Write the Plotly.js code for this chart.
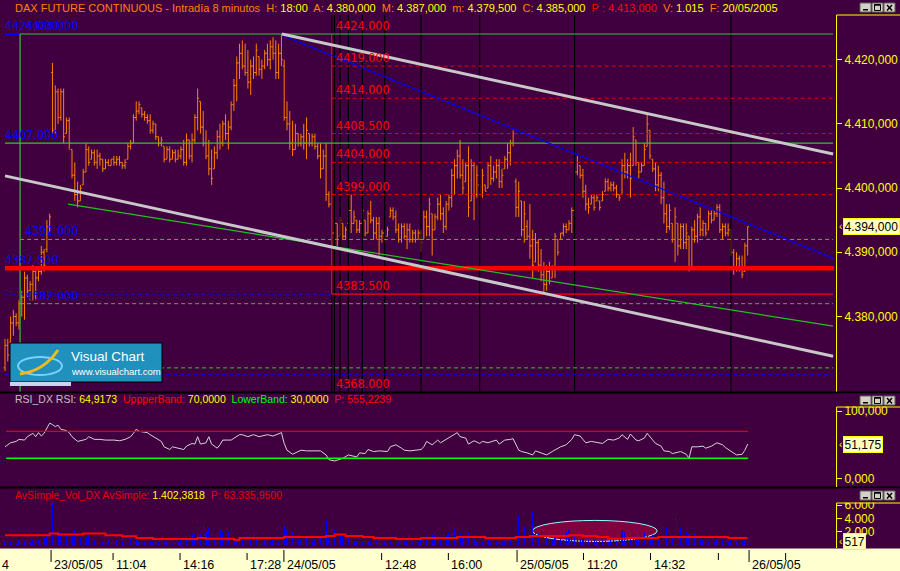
<!DOCTYPE html>
<html><head><meta charset="utf-8">
<script src="https://cdn.plot.ly/plotly-3.0.1.min.js"></script>
<style>html,body{margin:0;padding:0;background:#400040;}#chart{width:900px;height:571px;}</style>
</head><body><div id="chart"></div>
<script>
// ---------------- DATA ----------------
const barHigh = [4376.5,4376.5,4380,4381,4380.5,4382.5,4384,4387,4386.5,4385.5,4388,4387.5,4387.5,4391,4390.5,4395,4396,4419.5,4416,4415.5,
4415.5,4415.5,4411,4411,4406,4404,4401,4400.5,4403,4407,4406.5,4406,4406,4406,4405.5,4404.5,4404.5,4404.5,4404.5,4405,
4405,4405,4404,4404.5,4407,4407.5,4411.5,4413.5,4413.5,4412.5,4412,4411.5,4411.5,4410.5,4410,4408,4408,4406.5,4406.5,4406.5,
4406,4406,4406,4406.5,4407.5,4408.5,4407.5,4408.5,4411.5,4415.5,4413.5,4412,4409,4407.5,4406,4406.5,4409,4410,4410.5,4411.5,
4410.5,4413.5,4417,4420.5,4422.5,4423,4422.5,4421.5,4420,4420.5,4422.5,4420.5,4420,4421.5,4422.5,4423,4423.5,4423,4422.5,4424,
4420,4413.5,4412,4410.5,4410,4408.5,4408.5,4410,4411,4408.5,4408.5,4408.5,4407,4407,4406,4407,4399.5,4399.5,4395,4394.5,
4395.5,4394.5,4394,4397,4399,4396.5,4395,4395,4397,4395,4396.5,4398,4395.5,4395.5,4395.5,4393.5,4393.5,4394,4397,4397,
4396.5,4394.5,4394.5,4394.5,4394.5,4394.5,4393.5,4393.5,4393.5,4393.5,4396.5,4396.5,4398.5,4396,4396,4398.5,4399,4397,4398,4399,
4403,4404.5,4406,4407.5,4404.5,4404,4406.5,4404.5,4404,4403.5,4400.5,4403,4400.5,4404,4405,4403.5,4404.5,4404.5,4403,4405,
4407,4407.5,4409,4401.5,4401,4398,4398,4395,4397.5,4393.5,4393,4392,4390.5,4388.5,4388,4388.5,4388,4393,4392,4393,
4394.5,4394.5,4395,4397,4403.5,4405,4403.5,4403,4400.5,4398.5,4399,4399,4399,4398,4399.5,4401.5,4401.5,4401,4401,4400.5,
4399,4404.5,4405.5,4404.5,4405.5,4409.5,4407.5,4404,4404,4407,4411.5,4409,4404.5,4404,4403.5,4402.5,4401,4397.5,4397.5,4394.5,
4397,4394.5,4394.5,4394.5,4394.5,4392.5,4394,4395,4396,4397,4395,4394.5,4396.5,4396.5,4396.5,4397.5,4397.5,4394.5,4394.5,4394.5,
4393.5,4390.5,4390,4389.5,4389.5,4391.5,4394];
const barLow = [4371.5,4373,4375.5,4377,4378.5,4378,4380,4379.5,4383,4382.5,4382.5,4382.5,4385.5,4386.5,4387,4390,4393,4408.5,4408.5,4410,
4410.5,4407,4408.5,4406,4401.5,4398,4397,4398,4400.5,4402.5,4403.5,4404.5,4403.5,4403,4403.5,4402.5,4403,4403.5,4403.5,4403.5,
4403.5,4403.5,4403,4403,4404.5,4406,4407,4410.5,4411.5,4411,4410.5,4410,4408.5,4408.5,4407.5,4406.5,4406.5,4404,4404.5,4404,
4404.5,4404,4404.5,4404.5,4403.5,4403.5,4404.5,4404,4407,4409,4408.5,4406.5,4404.5,4402,4400.5,4403,4404.5,4406,4406.5,4407.5,
4406,4409,4412,4413.5,4417,4418.5,4417.5,4415.5,4414.5,4417,4417.5,4417.5,4417,4418.5,4419,4418.5,4420,4417,4417,4419,
4410.5,4409,4406,4405,4406,4406.5,4406.5,4406,4404.5,4406.5,4406.5,4406,4404.5,4401.5,4403,4398,4397,4391,4392,4391,
4392.5,4392,4392,4394.5,4393,4394.5,4393,4393,4394.5,4392.5,4393,4394.5,4392,4392,4389.5,4391.5,4391.5,4392.5,4395.5,4395,
4393,4391.5,4391.5,4392,4390.5,4391.5,4391.5,4391.5,4392,4390,4392,4392.5,4392.5,4389.5,4393.5,4395,4395,4393,4393.5,4396.5,
4397,4399,4401.5,4401.5,4399,4401,4395.5,4398,4395,4398.5,4398.5,4398.5,4399.5,4400,4400.5,4401,4401.5,4400,4400,4403,
4403,4403.5,4406.5,4395.5,4395.5,4392.5,4391.5,4392,4389,4386,4388.5,4387,4385.5,4383.5,4384,4385,4386,4386,4389.5,4392,
4392.5,4393,4393.5,4393,4396.5,4402,4401.5,4398.5,4396.5,4396,4397.5,4396.5,4398,4396.5,4398,4399.5,4399.5,4399.5,4399.5,4398.5,
4398,4399,4401.5,4401.5,4398.5,4403.5,4403.5,4401.5,4402.5,4403.5,4406.5,4404.5,4402.5,4399.5,4399.5,4397.5,4394.5,4393,4393.5,4391.5,
4388.5,4389.5,4390.5,4390.5,4390.5,4387,4387.5,4391.5,4391.5,4392.5,4392.5,4392.5,4393.5,4394.5,4395,4395.5,4393,4392,4392.5,4392.5,
4389.5,4386.5,4387,4387,4386,4387,4389.5];
const barOpen = [4372,4375.5,4376,4379,4380,4379,4382,4383,4386,4384,4385,4387,4386,4387,4390,4390.5,4394,4418,4409,4415,
4411,4415,4408.5,4410.5,4406,4402,4399,4398,4400.5,4402.5,4406,4404.5,4405.5,4404,4405,4404.5,4403,4404,4403.5,4404.5,
4404,4404.5,4404,4403.5,4404.5,4406.5,4407,4411,4412,4412.5,4411.5,4411,4410.5,4409,4410,4408,4407,4406.5,4404.5,4406,
4404.5,4405.5,4404.5,4405,4406,4404,4407.5,4405,4407.5,4411,4413.5,4409.5,4407,4405,4403,4403,4405.5,4408,4407,4410,
4408.5,4409.5,4413,4416,4419.5,4421,4419,4418,4416.5,4419,4418,4420.5,4418.5,4419,4421,4420,4422,4421,4418,4421,
4419,4411,4410,4407,4406,4408.5,4407,4408,4407,4408.5,4407,4408,4406.5,4405,4403,4405,4399,4397.5,4393,4394.5,
4392.5,4394.5,4392.5,4394.5,4396.5,4394.5,4395,4393.5,4394.5,4395,4393,4396,4395,4393,4394.5,4392.5,4393,4392.5,4395.5,4396.5,
4395.5,4393.5,4392,4394,4392.5,4393.5,4392,4393,4392,4393,4392,4395.5,4394,4396,4393.5,4395.5,4397.5,4396,4394,4397.5,
4398.5,4402,4403.5,4405,4402,4401,4403.5,4398,4403.5,4399,4400.5,4399,4400.5,4400,4403.5,4401.5,4402.5,4403.5,4401,4403,
4404.5,4405.5,4407,4401,4397,4398,4393.5,4394,4392.5,4391,4388.5,4391.5,4388,4386.5,4385,4387,4386,4387.5,4392,4392,
4393,4394,4393.5,4394.5,4396.5,4402.5,4403.5,4402,4399.5,4397.5,4397.5,4398.5,4398,4398,4398,4399.5,4401,4400,4400.5,4400,
4399,4399,4403.5,4402.5,4403.5,4403.5,4407.5,4404,4402.5,4403.5,4406.5,4409,4404.5,4403,4400.5,4402,4398.5,4396,4394,4394.5,
4392,4394.5,4391,4394,4391.5,4392.5,4387.5,4393.5,4392.5,4395.5,4393.5,4394.5,4393.5,4396,4395,4396,4397,4393.5,4394,4393,
4393.5,4390,4387.5,4389,4387.5,4387,4391];
const barClose = [4375.5,4374,4379,4380,4379,4382,4383,4386,4384,4385,4387,4386,4387,4390,4388,4394,4395.5,4409,4415,4411,
4415,4408,4410.5,4407,4402,4399,4398,4400,4402.5,4406,4404,4405.5,4404,4405,4404.5,4403,4404,4403.5,4404.5,4404,
4404.5,4404,4403.5,4404,4406.5,4407,4411,4412,4413,4411.5,4411,4410.5,4409,4410,4408,4407,4407.5,4404.5,4406,4404.5,
4405.5,4404.5,4405,4406,4404,4407.5,4405,4407.5,4411,4414,4409.5,4407,4405,4403,4401.5,4405.5,4408,4407,4410,4408.5,
4409.5,4413,4416,4419.5,4421,4419,4418,4416.5,4419,4418,4421.5,4418.5,4419,4421,4420,4422,4421,4418,4421,4420,
4411,4410,4407,4406,4408.5,4407,4408,4407,4409,4407,4408,4406.5,4405,4403,4405,4399,4397.5,4393,4394.5,4392,
4395,4392.5,4393.5,4396.5,4394.5,4395.5,4393.5,4394.5,4396.5,4393,4396,4395,4393,4394.5,4392.5,4393,4392,4393.5,4396.5,4395.5,
4393.5,4392,4394,4392.5,4393.5,4392,4393,4392,4393,4391.5,4395.5,4394,4397.5,4393.5,4395.5,4397.5,4396,4394,4397.5,4398.5,
4402,4403.5,4405,4402,4400,4403.5,4397,4403.5,4399,4402,4399,4402,4399.5,4403.5,4401.5,4402.5,4403.5,4401,4402,4404.5,
4405.5,4407,4408.5,4397,4399.5,4393.5,4396,4392.5,4391,4388,4391.5,4388,4386.5,4385,4387,4385.5,4387.5,4392.5,4390,4393,
4394,4393.5,4394.5,4396.5,4402.5,4404,4402,4399.5,4397.5,4397,4398.5,4397,4398.5,4397,4399,4401,4400,4400.5,4400,4399,
4398.5,4403.5,4402.5,4403.5,4401.5,4408,4404,4402.5,4403.5,4406,4410,4405,4403,4400.5,4402,4398.5,4396,4394,4396.5,4392,
4395.5,4391,4394,4391.5,4393,4387.5,4393.5,4392.5,4395.5,4393.5,4394.5,4393,4396,4395,4396,4397,4393.5,4394,4393,4393.5,
4390,4387.5,4389,4387.5,4386.5,4391,4394];
const volume = [520,700,450,610,380,820,560,640,900,480,720,530,980,660,1100,1350,1450,6240,3730,2000,
1950,1700,1550,1230,1250,2250,2200,1250,1300,1200,1480,600,750,480,700,520,640,800,450,550,
720,380,600,690,520,880,1100,950,620,700,480,560,650,420,760,520,600,700,450,580,
400,680,520,740,900,1100,1500,1700,1600,3500,1650,2900,2000,2600,2100,1200,2400,2250,1900,2300,
2100,1800,900,1000,800,1100,900,700,750,1980,900,700,600,750,650,700,800,600,700,1000,
2800,2200,2000,1900,1000,800,900,700,1100,750,650,900,800,1200,1000,3600,1500,2500,2400,1500,
1300,1250,1450,1200,1350,700,600,800,550,700,650,500,700,600,850,500,450,600,700,550,
500,650,450,600,520,700,480,600,550,800,1200,1400,1100,1700,1300,1500,1200,1600,1400,2000,
3000,2400,2600,1800,1500,1700,2000,1400,900,700,800,650,600,750,550,700,500,650,600,700,
550,800,900,600,4500,1500,2700,1400,1300,5000,1800,1600,2100,1500,1200,900,1000,1100,800,900,
750,2000,2200,1500,1300,1100,1000,900,700,800,650,750,600,700,800,650,550,900,750,600,
1100,2100,2000,1200,1000,1600,1100,900,1400,2000,1300,1200,1500,1100,1300,2700,2900,2600,1800,1500,
4000,2600,2500,1900,2000,1700,1800,1600,1100,900,800,1000,700,850,600,750,650,800,550,700,
900,750,600,800,650,750,517];
const maBars   = [0,16,19,28,36,42,47,53,69,72,82,84,100,115,118,122,128,132,140,149,162,172,183,188,202,207,212,216,223,234,259,266];
const maValues = [1480,1730,1580,1730,1480,1330,1080,930,1080,980,830,1080,1230,1380,1580,1380,1230,1080,930,1080,1230,1080,1230,1380,1480,1380,1230,980,1080,1230,1080,1080];
const rsiBars = [0,2,4,5,7,8,10,11,12,13,14,15,16,17,18,19,20,22,23,24,26,28,29,30,32,34,36,39,41,43,
45,46,47,48,51,52,54,56,57,59,60,62,64,65,67,68,69,70,72,73,74,76,77,78,81,84,85,87,89,91,
94,96,97,99,100,101,103,105,106,108,110,112,113,115,116,118,119,121,123,125,126,127,129,130,132,134,137,138,140,142,
143,145,147,149,150,151,153,155,156,158,159,161,162,163,165,166,168,170,171,173,175,176,177,179,181,182,184,185,187,189,
190,192,194,196,198,199,201,203,204,206,207,208,210,212,214,216,218,220,221,223,224,226,227,229,230,232,233,235,236,238,
239,242,244,245,246,248,250,251,253,255,257,258,260,262,264,265,266];
const rsiValues = [47,53,55,58,57,62,67,62,68,63,67,74,82,80,77,79,73,71,68,62,55,57,58,62,58,58,57,57,56,58,
62,67,73,70,68,65,60,55,47,43,47,45,43,48,52,51,62,51,53,62,51,45,50,57,57,65,65,62,65,62,
65,63,65,68,52,42,36,40,42,41,41,41,41,35,28,26,27,30,35,33,32,38,37,43,40,41,40,47,50,45,
42,41,42,43,47,55,50,57,53,58,60,66,68,62,60,51,56,52,55,53,55,57,51,57,58,59,42,40,38,35,
41,38,35,40,45,47,50,58,65,63,58,53,55,53,52,58,57,60,65,58,66,57,56,60,67,57,52,48,41,40,
37,40,36,30,47,47,48,45,48,53,50,46,40,35,36,42,51.175];
const rsiUpperBand = 70, rsiLowerBand = 30;

// drawn studies (bar index / price)
const greenSolidLevels = [4424, 4407];
const greenDashLevels  = [4392, 4382, 4372];
const blueDashLevels   = [4383.5, 4371];
const redThickLevel    = 4387.5;
const fibLevels        = [4424, 4419, 4414, 4408.5, 4404, 4399, 4383.5, 4368];
const fibTimeBars      = [117, 118, 120, 123, 128, 136, 149, 170, 204, 260];
const upperChannelBars = [99.2, 296.6], upperChannelPrices = [4424, 4405.3];
const lowerChannelBars = [0, 296.6],    lowerChannelPrices = [4401.9, 4373.8];
const blueTrendBars    = [99.2, 296.6], blueTrendPrices    = [4423.8, 4389.1];
const greenTrendBars   = [22.6, 296.6], greenTrendPrices   = [4397.5, 4378.5];
const volEllipseBars   = [188.9, 233.6], volEllipseValues = [560, 3700];

const blueLabelLevels  = [4424, 4407, 4387.5];      // labels at the left edge
const blueLabelLevels2 = [4424, 4392, 4382];        // labels next to the green frame
const timeTickBars   = [38.7, 62.7, 86.7, 134.9, 158.8, 207.2, 231.2, 255.5, 279.6];
const timeTickLabels = ['11:04','14:16','17:28','12:48','16:00','11:20','14:32','',''];
const dateTickBars   = [16.5, 99.9, 183.4, 266.5];
const dateTickLabels = ['23/05/05','24/05/05','25/05/05','26/05/05'];
const priceTicks = [4380, 4390, 4400, 4410, 4420];
const rsiTicks = [0, 100];
const volTicks = [2000, 4000, 6000];

// ---------------- helpers ----------------
const W = 900, H = 571;
const px = x => x / W;
const py = y => 1 - y / H;
const BG = '#400040', ORANGE = '#ff8000', YELLOW = '#ffff00', RED = '#ff0000';
const FONT = 'Liberation Sans, Arial, sans-serif';
const NARROW = 'Liberation Sans Narrow, Arial Narrow, DejaVu Sans Condensed, sans-serif';
function euro(n, dec) {
  const s = n.toFixed(dec).split('.');
  const int = s[0].replace(/\B(?=(\d{3})+(?!\d))/g, '.');
  return dec > 0 ? int + ',' + s[1] : int;
}
const N = barClose.length;
const barIndex = Array.from({length: N}, (_, i) => i);

const PXPB = 2.792, X0PX = 5;           // pixel scale of the bar axis
const xr0 = -X0PX / PXPB, xr1 = xr0 + 836 / PXPB;
const PRICE_RANGE = [4368.24, 4426.96];
const xLeftA = 0, xLeftB = 5.4, xRight = 296.6, xRightThick = 296.9, fibStart = 117;

// ---------------- traces ----------------
const traces = [
  {type:'ohlc', x:barIndex, open:barOpen, high:barHigh, low:barLow, close:barClose,
   increasing:{line:{color:ORANGE, width:1}}, decreasing:{line:{color:ORANGE, width:1}},
   tickwidth:0.5, xaxis:'x', yaxis:'y', hoverinfo:'skip'},
  {type:'scatter', mode:'lines', x:rsiBars, y:rsiValues, line:{color:'#d4d4d4', width:1},
   xaxis:'x', yaxis:'y2', hoverinfo:'skip'},
  {type:'bar', x:barIndex, y:volume, width:0.4, marker:{color:'#0000ff', line:{width:0}},
   xaxis:'x', yaxis:'y3', hoverinfo:'skip'},
  {type:'scatter', mode:'lines', x:maBars, y:maValues, line:{color:RED, width:2, shape:'hv'},
   xaxis:'x', yaxis:'y3', hoverinfo:'skip'}
];

// ---------------- shapes ----------------
const shapes = [];
const hline = (y, x0, x1, color, width, dash, yref) => shapes.push({type:'line', xref:'x', yref:yref||'y',
  x0:x0, x1:x1, y0:y, y1:y, line:{color:color, width:width, dash:dash||'solid'}});
const pline = (x0,y0,x1,y1,color,width,dash) => shapes.push({type:'line', xref:'paper', yref:'paper',
  x0:px(x0), x1:px(x1), y0:py(y0), y1:py(y1), line:{color:color, width:width, dash:dash||'solid'}});
const prect = (x0,y0,x1,y1,fill,lc,lw) => shapes.push({type:'rect', xref:'paper', yref:'paper',
  x0:px(x0), x1:px(x1), y0:py(y0), y1:py(y1), fillcolor:fill, line:{color:lc||fill, width:lw===undefined?0:lw}});

// Fibonacci time zone verticals
fibTimeBars.forEach(b => shapes.push({type:'line', xref:'x', yref:'paper', x0:b, x1:b, y0:py(15), y1:py(392),
  line:{color:'#000000', width:1.2}}));
// blue dashed levels
blueDashLevels.forEach(l => hline(l, xLeftA, xRight, '#0000ff', 1, '4px,3px'));
// green dashed levels
greenDashLevels.forEach(l => hline(l, xLeftB, xRight, '#2ec82e', 1, '4px,3px'));
// fib retracement
for (let k = 1; k < fibLevels.length - 1; k++) {
  if (fibLevels[k] === 4383.5) hline(fibLevels[k], fibStart, xRight, '#ff0000', 1.2);
  else hline(fibLevels[k], fibStart, xRight, '#e00000', 1, '4px,3px');
}
shapes.push({type:'line', xref:'x', yref:'y', x0:fibStart, x1:fibStart, y0:fibLevels[0], y1:4383.5, line:{color:'#ff0000', width:1.2}});
// green solid levels & frame
hline(greenSolidLevels[0], xLeftB, xRight, '#2ec82e', 1.2);
hline(greenSolidLevels[1], xLeftA, xRight, '#2ec82e', 1.2);
hline(greenSolidLevels[0], xLeftA, xLeftB, '#0000ff', 2);
shapes.push({type:'line', xref:'x', yref:'paper', x0:xLeftB, x1:xLeftB, y0:py(392), y1:py(34), line:{color:'#2ec82e', width:1.2}});
// thick red level
hline(redThickLevel, xLeftA, xRightThick, '#ff0000', 4.5);
// trend lines
const seg = (bars, prices, color, width) => shapes.push({type:'line', xref:'x', yref:'y',
  x0:bars[0], x1:bars[1], y0:prices[0], y1:prices[1], line:{color:color, width:width}});
seg(greenTrendBars, greenTrendPrices, '#22c022', 1.2);
seg(blueTrendBars, blueTrendPrices, '#0000ff', 1.2);
seg(upperChannelBars, upperChannelPrices, '#c8c8c8', 3);
seg(lowerChannelBars, lowerChannelPrices, '#c8c8c8', 3);
// RSI bands
hline(rsiUpperBand, 0.4, 266.2, '#e00000', 1.3, 'solid', 'y2');
hline(rsiLowerBand, 0.4, 266.2, '#00ff00', 1.6, 'solid', 'y2');
// volume ellipse
shapes.push({type:'circle', xref:'x', yref:'y3', layer:'below', x0:volEllipseBars[0], x1:volEllipseBars[1],
  y0:volEllipseValues[0], y1:volEllipseValues[1], fillcolor:'#800040', line:{color:'#90ffff', width:1}});

// logo
prect(10, 343, 162, 382, '#2090bc', '#000000', 1);
prect(10, 382, 71, 386, '#c8d4ec');
shapes.push({type:'circle', xref:'paper', yref:'paper', x0:px(18), x1:px(62), y0:py(375), y1:py(357),
  line:{color:'#7cd0ff', width:2}});
shapes.push({type:'path', xref:'paper', yref:'paper',
  path:`M ${px(20)},${py(374)} Q ${px(44)},${py(371)} ${px(58)},${py(350)}`, line:{color:'#f5b820', width:3}});

// panel separators and yellow axis frames
pline(0, 392.5, 900, 392.5, '#000000', 2);
pline(0, 487.5, 900, 487.5, '#000000', 2);
prect(837, 393.5, 900, 406.6, BG);
prect(837, 488.5, 900, 502.6, BG);
pline(836.5, 15, 900, 15, YELLOW, 1);
pline(836.5, 407, 900, 407, YELLOW, 1);
pline(836.5, 407, 836.5, 487, YELLOW, 1);
pline(836.5, 503, 900, 503, YELLOW, 1);
pline(836.5, 503, 836.5, 548, YELLOW, 1);

// window buttons
[3, 396, 491].forEach(t => {
  [860, 872, 884].forEach((x, k) => {
    prect(x, t, x + 11, t + 9, '#d4d0c8', '#606060', 1);
    if (k === 0) prect(x + 3, t + 6, x + 8, t + 7.5, '#000000');
    if (k === 1) { shapes.push({type:'rect', xref:'paper', yref:'paper', x0:px(x+2.5), x1:px(x+8.5), y0:py(t+7.5), y1:py(t+1.5), line:{color:'#000', width:1}});
                   pline(x + 2.5, t + 2, x + 8.5, t + 2, '#000', 1.5); }
    if (k === 2) { pline(x + 3, t + 2, x + 8, t + 7.5, '#000', 1.5); pline(x + 8, t + 2, x + 3, t + 7.5, '#000', 1.5); }
  });
});

// date axis band & ticks
prect(0, 548.5, 900, 571, '#ffffd0');
timeTickBars.forEach(b => shapes.push({type:'line', xref:'x', yref:'paper', x0:b, x1:b, y0:py(553), y1:py(560), line:{color:'#000', width:1}}));
dateTickBars.forEach(b => shapes.push({type:'line', xref:'x', yref:'paper', x0:b, x1:b, y0:py(550), y1:py(562), line:{color:'#000', width:1}}));

// ---------------- annotations ----------------
const ann = [];
const span = (t, c) => `<span style="color:${c}">${t}</span>`;
ann.push({xref:'paper', yref:'paper', x:px(13), y:py(7.5), xanchor:'left', yanchor:'middle', showarrow:false,
  font:{family:FONT, size:11, color:ORANGE},
  text: span('DAX FUTURE CONTINUOUS - Intradía 8 minutos', ORANGE) + span('  H: ', ORANGE) + span('18:00', YELLOW) +
        span('  A: ', ORANGE) + span('4.380,000', YELLOW) + span('  M: ', ORANGE) + span('4.387,000', YELLOW) +
        span('  m: ', ORANGE) + span('4.379,500', YELLOW) + span('  C: ', ORANGE) + span('4.385,000', YELLOW) +
        span('  P : 4.413,000', RED) + span('  V: ', ORANGE) + span('1.015', YELLOW) + span('  F: ', ORANGE) + span('20/05/2005', YELLOW)});
ann.push({xref:'paper', yref:'paper', x:px(13), y:py(399), xanchor:'left', yanchor:'middle', showarrow:false,
  font:{family:FONT, size:10.5, color:'#c0c0c0'},
  text: span('RSI_DX RSI: ', '#c0c0c0') + span(euro(64.9173, 4), YELLOW) + span('  UppperBand: ', RED) + span(euro(rsiUpperBand, 4), YELLOW) +
        span('  LowerBand: ', '#00ff00') + span(euro(rsiLowerBand, 4), YELLOW) + span('  P: 555,2239', RED)});
ann.push({xref:'paper', yref:'paper', x:px(13), y:py(495), xanchor:'left', yanchor:'middle', showarrow:false,
  font:{family:FONT, size:10.5, color:'#e00000'},
  text: span('AvSimple_Vol_DX AvSimple: ', '#e00000') + span('1.402,3818', YELLOW) + span('  P: 63.335,9500', '#e00000')});

// level labels
blueLabelLevels.forEach(l => ann.push({xref:'paper', yref:'y', x:px(4), y:l, xanchor:'left', yanchor:'bottom', showarrow:false,
  text:l.toFixed(3), font:{family:NARROW, size:12.5, color:'#0000ff'}, borderpad:0}));
blueLabelLevels2.forEach(l => ann.push({xref:'paper', yref:'y', x:px(24), y:l, xanchor:'left', yanchor:'bottom', showarrow:false,
  text:l.toFixed(3), font:{family:NARROW, size:12.5, color:'#0000ff'}, borderpad:0}));
fibLevels.forEach(l => ann.push({xref:'x', yref:'y', x:fibStart, y:Math.max(l, PRICE_RANGE[0] + 0.05), xanchor:'left', yanchor:'bottom',
  showarrow:false, xshift:3, text:l.toFixed(3), font:{family:NARROW, size:12.5, color:'#ff0000'}, borderpad:0}));

// last-value boxes
const boxes = [[barClose[N-1], 'y', euro(barClose[N-1], 3)], [rsiValues[rsiValues.length-1], 'y2', euro(rsiValues[rsiValues.length-1], 3)],
               [volume[N-1], 'y3', euro(volume[N-1], 0)]];
boxes.forEach(b => {
  ann.push({xref:'paper', yref:b[1], x:px(843), y:b[0], xanchor:'left', yanchor:'middle', showarrow:false, text:b[2],
    font:{family:FONT, size:12, color:'#000000'}, bgcolor:'#ffffc0', bordercolor:YELLOW, borderwidth:1, borderpad:0.5});
  ann.push({xref:'paper', yref:b[1], x:px(837), y:b[0], xanchor:'left', yanchor:'middle', showarrow:false, text:'‹',
    font:{family:FONT, size:10, color:YELLOW}});
});

// logo text
ann.push({xref:'paper', yref:'paper', x:px(69), y:py(356), xanchor:'left', yanchor:'middle', showarrow:false,
  text:'Visual Chart', font:{family:FONT, size:13.5, color:'#ffffff'}});
ann.push({xref:'paper', yref:'paper', x:px(69), y:py(371.5), xanchor:'left', yanchor:'middle', showarrow:false,
  text:'www.visualchart.com', font:{family:FONT, size:9.5, color:'#ffffff'}});

// date axis labels
const xl = (b, t) => ann.push({xref:'x', yref:'paper', x:b, y:py(564.5), xanchor:'left', yanchor:'middle', xshift:1, showarrow:false,
  text:t, font:{family:FONT, size:12.5, color:'#000000'}});
timeTickBars.forEach((b, k) => { if (timeTickLabels[k]) xl(b, timeTickLabels[k]); });
dateTickBars.forEach((b, k) => xl(b, dateTickLabels[k]));
ann.push({xref:'paper', yref:'paper', x:0, y:py(564.5), xanchor:'left', yanchor:'middle', showarrow:false, text:'4',
  font:{family:FONT, size:12.5, color:'#000000'}});

// ---------------- layout ----------------
const axCommon = {showgrid:false, zeroline:false, fixedrange:true, side:'right', anchor:'x',
  ticks:'outside', ticklen:5, tickcolor:YELLOW, tickwidth:1, tickfont:{family:FONT, size:12, color:YELLOW}};
const layout = {
  width:W, height:H, margin:{l:0, r:0, t:0, b:0}, paper_bgcolor:BG, plot_bgcolor:BG, showlegend:false,
  separators:',.', dragmode:false, bargap:0,
  xaxis:{domain:[0, 836/W], range:[xr0, xr1], showgrid:false, zeroline:false, showticklabels:false, ticks:'',
    showline:false, rangeslider:{visible:false}, fixedrange:true},
  yaxis:Object.assign({}, axCommon, {domain:[py(392), py(15)], range:PRICE_RANGE, tickvals:priceTicks,
    tickformat:',.3f', showline:true, linecolor:YELLOW, linewidth:1}),
  yaxis2:Object.assign({}, axCommon, {domain:[py(487), py(393)], range:[-12.5, 126.7], tickvals:rsiTicks,
    tickformat:',.3f', showline:false}),
  yaxis3:Object.assign({}, axCommon, {domain:[py(548), py(488)], range:[-418, 8537], tickvals:volTicks,
    tickformat:',d', showline:false}),
  shapes:shapes, annotations:ann
};
Plotly.newPlot('chart', traces, layout, {staticPlot:true, displayModeBar:false});
</script></body></html>
